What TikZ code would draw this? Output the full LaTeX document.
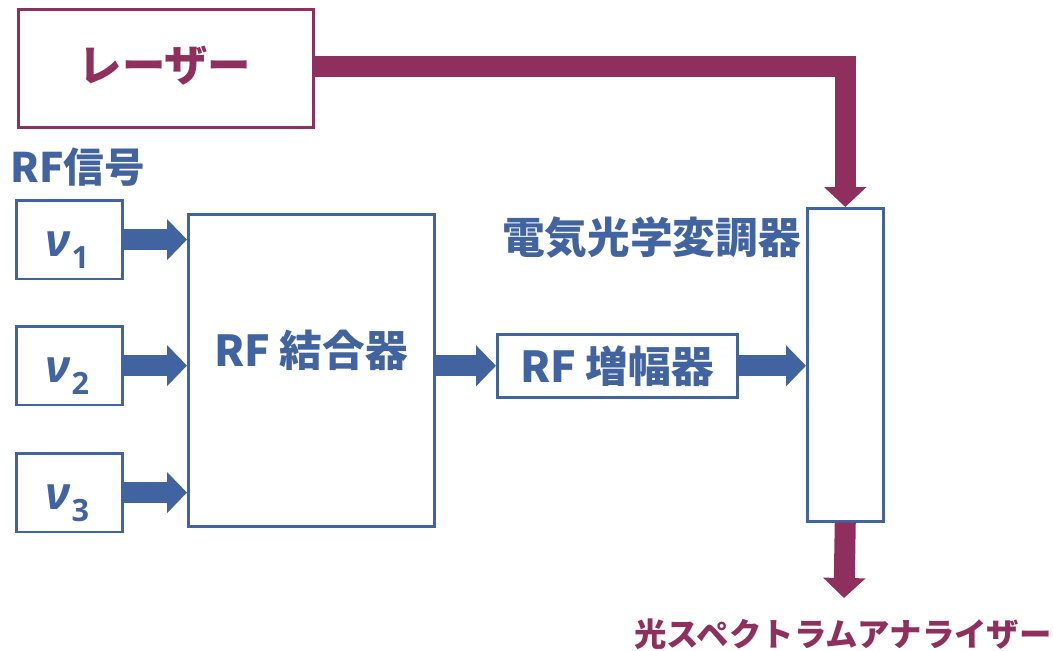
\documentclass[tikz,border=0pt]{standalone}
\usepackage{fontspec}
\setmainfont{Noto Sans CJK JP}
\newfontfamily\grk{Open Sans}
\usetikzlibrary{arrows.meta}
\definecolor{bl}{RGB}{65,99,160}
\definecolor{pu}{RGB}{142,47,94}
\tikzset{
  bbox/.style={draw=bl,line width=1.9pt,inner sep=0pt,anchor=north west},
  pbox/.style={draw=pu,line width=1.9pt,inner sep=0pt,anchor=north west},
  barrow/.style={draw=bl,line width=15.75pt,-{Triangle[width=30pt,length=15pt]}},
  parrow/.style={draw=pu,line width=15.75pt,line join=miter,-{Triangle[width=31pt,length=15pt]}},
  btxt/.style={text=bl,font=\fontsize{32}{38}\selectfont\bfseries,inner sep=0pt},
  nutxt/.style={text=bl,inner sep=0pt,anchor=base west}
}
\newcommand{\nusym}[1]{{\grk\fontsize{34}{40}\selectfont\bfseries\itshape\char"03BD}\kern1pt\raisebox{-9pt}{\grk\fontsize{23}{26}\selectfont\bfseries #1}}
\begin{document}
\begin{tikzpicture}[x=0.75pt,y=-0.75pt]
\useasboundingbox (0,0) rectangle (1053,650);
% laser
\node[pbox,minimum width=221.25pt,minimum height=88.5pt] (laser) at (17,8) {};
\node[text=pu,font=\fontsize{32.5}{38}\selectfont\bfseries,inner sep=0pt] at (165,66) {レーザー};
% RF signal label
\node[text=bl,font=\fontsize{30.5}{36}\selectfont\bfseries,inner sep=0pt,anchor=west] (rfsig) at (10,167) {RF信号};
% nu boxes
\node[bbox,minimum width=79.5pt,minimum height=59pt] (nu1) at (15,199) {};
\node[bbox,minimum width=79.5pt,minimum height=59pt] (nu2) at (15,325) {};
\node[bbox,minimum width=79.5pt,minimum height=59pt] (nu3) at (15,452) {};
\node[nutxt] at (45,256) {\nusym{1}};
\node[nutxt] at (45,382) {\nusym{2}};
\node[nutxt] at (45,509) {\nusym{3}};
% combiner
\node[bbox,minimum width=184.5pt,minimum height=234pt] (comb) at (187,213) {};
\node[btxt] at (311,350) {RF 結合器};
% amplifier
\node[bbox,minimum width=180pt,minimum height=47.25pt] (amp) at (496,333) {};
\node[btxt] at (617,366) {RF 増幅器};
% EOM
\node[bbox,minimum width=57pt,minimum height=234.75pt] (eom) at (806,207) {};
\node[btxt,anchor=east] (eomlbl) at (801,238) {電気光学変調器};
% OSA
\node[text=pu,font=\fontsize{24.3}{28}\selectfont\bfseries,inner sep=0pt] (osa) at (843,634) {光スペクトラムアナライザー};
\coordinate (osain) at (844,598);
% arrows
\draw[barrow] (nu1.east) -- (comb.west |- nu1.east);
\draw[barrow] (nu2.east) -- (comb.west |- nu2.east);
\draw[barrow] (nu3.east) -- (comb.west |- nu3.east);
\draw[barrow] (comb.east |- amp.west) -- (amp.west);
\draw[barrow] (amp.east) -- (eom.west |- amp.east);
\draw[parrow] ([yshift=1.5pt]laser.east) -| (eom.north);
\draw[parrow] (eom.south) -- (osain);
\end{tikzpicture}
\end{document}
